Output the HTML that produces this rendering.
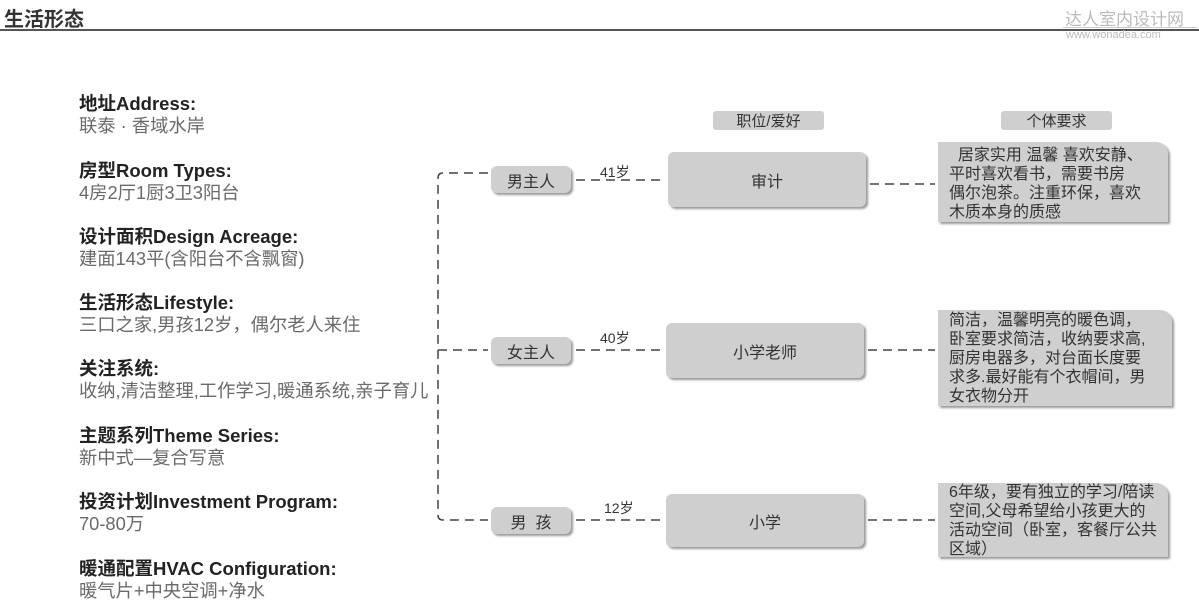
<!DOCTYPE html>
<html><head><meta charset="utf-8"><style>
body{margin:0;width:1199px;height:615px;background:#fff;position:relative;overflow:hidden;font-family:"Liberation Sans","Noto Sans CJK SC",sans-serif;}
.a{position:absolute;white-space:nowrap;}
.t{font-weight:bold;font-size:18.5px;color:#222;left:79px;}
.v{font-size:18.3px;color:#6a6a6a;left:79px;}
.box{position:absolute;background:#cfcfcf;border-radius:6px;box-shadow:2px 2px 2px #999;color:#333;font-size:16px;display:flex;align-items:center;justify-content:center;}
.rb{position:absolute;background:#cfcfcf;border-radius:0 12px 0 0;box-shadow:2px 2px 2px #999;color:#333;font-size:16px;line-height:19px;padding:1px 4px 0 11px;box-sizing:border-box;white-space:nowrap;}
.age{position:absolute;font-size:14px;color:#333;}
</style></head><body>
<div class="a" style="left:4px;top:3px;font-size:20px;font-weight:bold;color:#333;">生活形态</div>
<div class="a" style="left:0;top:29px;width:1199px;height:2px;background:#555;"></div>
<div class="a" style="left:1065px;top:5px;font-size:17px;color:#bbb;">达人室内设计网</div>
<div class="a" style="left:1063px;top:27px;width:134px;height:1px;background:#ccc;"></div>
<div class="a" style="left:1066px;top:29px;font-size:11px;color:#bbb;">www.wonadea.com</div>

<div class="a t" style="top:90px">地址Address:</div><div class="a v" style="top:112px">联泰 · 香域水岸</div>
<div class="a t" style="top:157px">房型Room Types:</div><div class="a v" style="top:179px">4房2厅1厨3卫3阳台</div>
<div class="a t" style="top:223px">设计面积Design Acreage:</div><div class="a v" style="top:245px">建面143平(含阳台不含飘窗)</div>
<div class="a t" style="top:289px">生活形态Lifestyle:</div><div class="a v" style="top:311px">三口之家,男孩12岁，偶尔老人来住</div>
<div class="a t" style="top:355px">关注系统:</div><div class="a v" style="top:377px">收纳,清洁整理,工作学习,暖通系统,亲子育儿</div>
<div class="a t" style="top:422px">主题系列Theme Series:</div><div class="a v" style="top:444px">新中式—复合写意</div>
<div class="a t" style="top:488px">投资计划Investment Program:</div><div class="a v" style="top:510px">70-80万</div>
<div class="a t" style="top:555px">暖通配置HVAC Configuration:</div><div class="a v" style="top:577px">暖气片+中央空调+净水</div>

<svg class="a" style="left:0;top:0" width="1199" height="615">
<g stroke="#444" stroke-width="1.5" fill="none" stroke-dasharray="9,6">
<path d="M488 173 H443 Q438 173 438 178 V515 Q438 520 443 520 H488"/>
<path d="M438 350 H488"/>
<path d="M576 180 H664"/><path d="M576 350 H662"/><path d="M576 520 H662"/>
<path d="M870 184 H935"/><path d="M868 350 H935"/><path d="M868 520 H935"/>
</g></svg>

<div class="box" style="left:713px;top:111px;width:111px;height:19px;border-radius:3px;box-shadow:none;font-size:15px;">职位/爱好</div>
<div class="box" style="left:1001px;top:111px;width:111px;height:19px;border-radius:3px;box-shadow:none;font-size:15px;">个体要求</div>

<div class="box" style="left:491px;top:166px;width:80px;height:27px;">男主人</div>
<div class="box" style="left:491px;top:337px;width:80px;height:27px;">女主人</div>
<div class="box" style="left:491px;top:507px;width:80px;height:27px;">男&nbsp;&nbsp;孩</div>
<div class="age" style="left:600px;top:162px">41岁</div>
<div class="age" style="left:600px;top:328px">40岁</div>
<div class="age" style="left:604px;top:498px">12岁</div>

<div class="box" style="left:668px;top:152px;width:198px;height:55px;">审计</div>
<div class="box" style="left:666px;top:323px;width:198px;height:55px;">小学老师</div>
<div class="box" style="left:666px;top:494px;width:198px;height:53px;">小学</div>

<div class="rb" style="left:938px;top:142px;width:230px;height:80px;padding-top:4px;">&nbsp;&nbsp;居家实用 温馨 喜欢安静、<br>平时喜欢看书，需要书房<br>偶尔泡茶。注重环保，喜欢<br>木质本身的质感</div>
<div class="rb" style="left:938px;top:310px;width:234px;height:96px;">简洁，温馨明亮的暖色调，<br>卧室要求简洁，收纳要求高,<br>厨房电器多，对台面长度要<br>求多.最好能有个衣帽间，男<br>女衣物分开</div>
<div class="rb" style="left:938px;top:483px;width:230px;height:74px;padding-top:0;padding-left:11px;">6年级，要有独立的学习/陪读<br>空间,父母希望给小孩更大的<br>活动空间（卧室，客餐厅公共<br>区域）</div>
</body></html>
